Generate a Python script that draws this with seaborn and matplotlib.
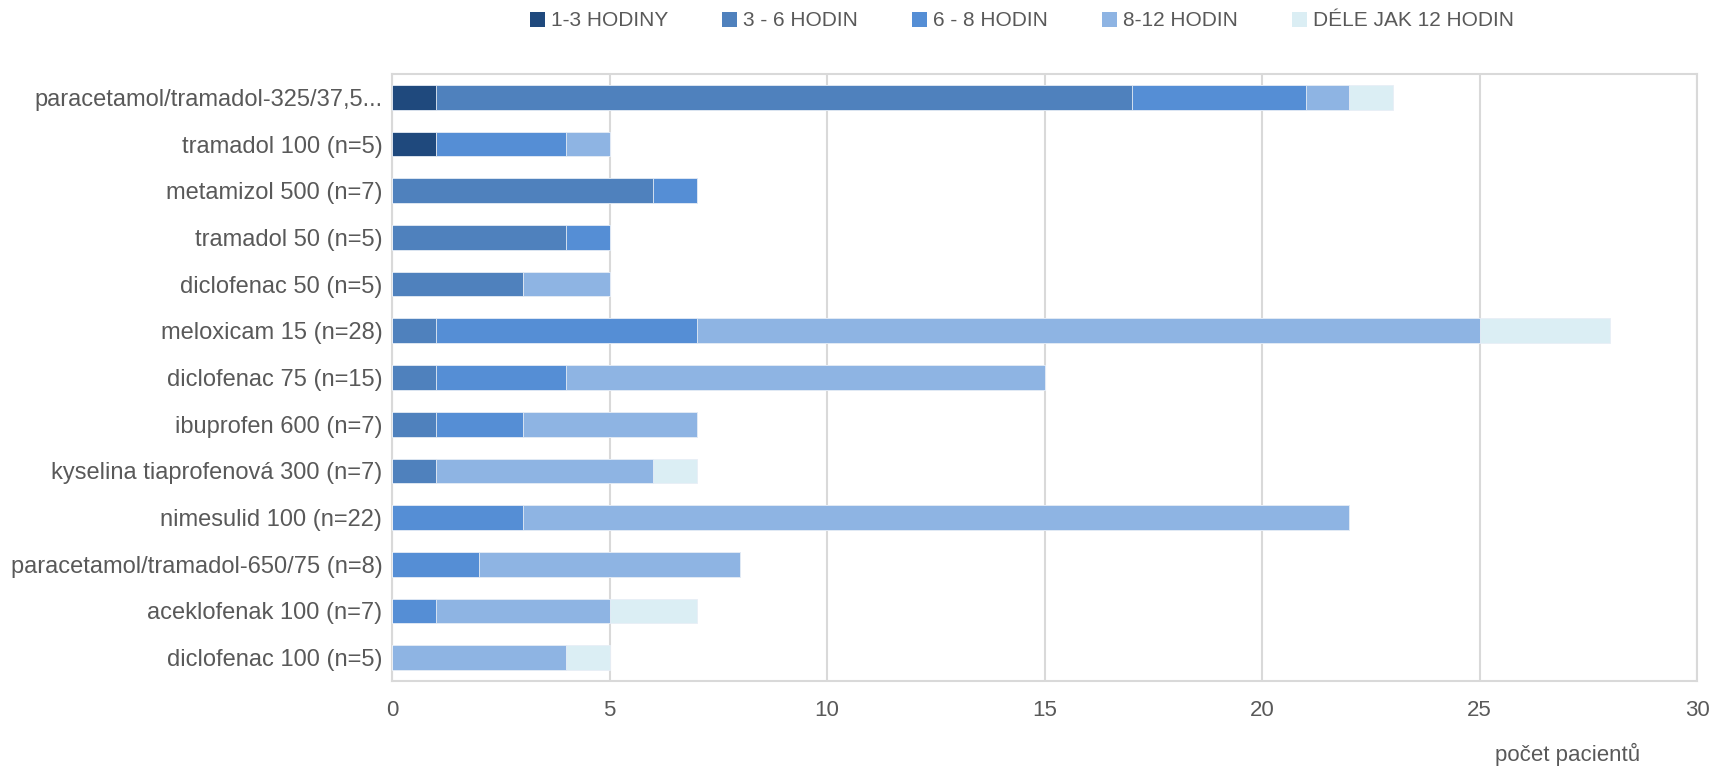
import numpy as np
import pandas as pd
import matplotlib
matplotlib.use("Agg")
import matplotlib.pyplot as plt
import seaborn as sns
from matplotlib.patches import Patch

categories = [
    "paracetamol/tramadol-325/37,5...",
    "tramadol 100 (n=5)",
    "metamizol 500 (n=7)",
    "tramadol 50 (n=5)",
    "diclofenac 50 (n=5)",
    "meloxicam 15 (n=28)",
    "diclofenac 75 (n=15)",
    "ibuprofen 600 (n=7)",
    "kyselina tiaprofenová 300 (n=7)",
    "nimesulid 100 (n=22)",
    "paracetamol/tramadol-650/75 (n=8)",
    "aceklofenak 100 (n=7)",
    "diclofenac 100 (n=5)",
]
series_names = ["1-3 HODINY", "3 - 6 HODIN", "6 - 8 HODIN", "8-12 HODIN", "DÉLE JAK 12 HODIN"]
h_1_3 = [1, 1, 0, 0, 0, 0, 0, 0, 0, 0, 0, 0, 0]
h_3_6 = [16, 0, 6, 4, 3, 1, 1, 1, 1, 0, 0, 0, 0]
h_6_8 = [4, 3, 1, 1, 0, 6, 3, 2, 0, 3, 2, 1, 0]
h_8_12 = [1, 1, 0, 0, 2, 18, 11, 4, 5, 19, 6, 4, 4]
h_12p = [1, 0, 0, 0, 0, 3, 0, 0, 1, 0, 0, 2, 1]
x_ticks = [0, 5, 10, 15, 20, 25, 30]
x_label = "počet pacientů"

colors = ["#1F497D", "#4F81BD", "#558ED5", "#8EB4E3", "#DBEEF4"]

sns.set_theme(style="white")
plt.rcParams["font.family"] = ["Liberation Sans", "DejaVu Sans"]

fig = plt.figure(figsize=(17.13, 7.66), dpi=100)
ax = fig.add_axes([392 / 1713, 1 - 681 / 766, (1697 - 392) / 1713, (681 - 74) / 766])

series = [h_1_3, h_3_6, h_6_8, h_8_12, h_12p]
cum = np.cumsum(np.array(series), axis=0)
df = pd.DataFrame({"cat": categories})
for k in range(len(series) - 1, -1, -1):
    df["v"] = cum[k]
    sns.barplot(data=df, x="v", y="cat", orient="h", color=colors[k], width=0.53,
                saturation=1, edgecolor="#E8EEF6", linewidth=0.6, ax=ax, zorder=3)

ax.set_xlim(0, 30)
ax.set_ylim(len(categories) - 0.5, -0.5)
ax.set_xticks(x_ticks)
ax.set_xticklabels([str(t) for t in x_ticks])
ax.grid(axis="x", color="#D9D9D9", linewidth=1.5, zorder=0)
ax.set_axisbelow(True)
for s in ax.spines.values():
    s.set_visible(True)
    s.set_color("#D9D9D9")
    s.set_linewidth(1.5)
ax.set_xlabel("")
ax.set_ylabel("")
ax.tick_params(axis="x", length=0, pad=14, labelsize=16, labelcolor="#595959")
ax.tick_params(axis="y", length=0, pad=7, labelsize=17, labelcolor="#595959")

fig.text(1568 / 1713, 1 - 754 / 766, x_label, ha="center", va="center", fontsize=16, color="#595959")

handles = [Patch(facecolor=c, edgecolor="none") for c in colors]
fig.legend(handles, series_names, loc="center", bbox_to_anchor=(1022 / 1713, 1 - 21 / 766), ncol=5,
           frameon=False, fontsize=15, handlelength=0.7, handleheight=0.7, handletextpad=0.3,
           columnspacing=2.6, labelcolor="#595959")

fig.savefig("out.png", dpi=100)
